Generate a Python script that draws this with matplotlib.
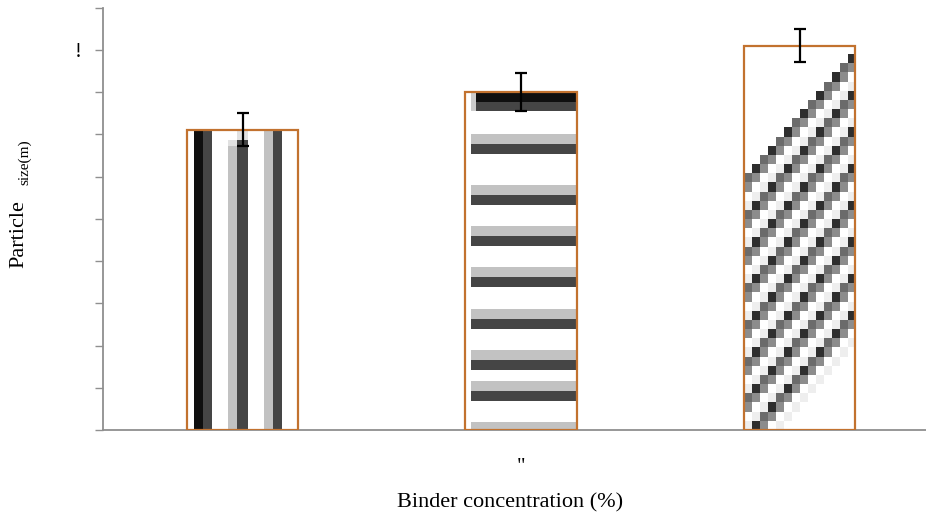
import numpy as np
import matplotlib
matplotlib.use("Agg")
import matplotlib.pyplot as plt

# Data
categories = ["", '"', ""]
particle_size = [7.11, 8.00, 9.10]
size_err = [0.39, 0.45, 0.40]
y_ticks = [0, 1, 2, 3, 4, 5, 6, 7, 8, 9, 10]
y_tick_labels = ["", "", "", "", "", "", "", "", "", "!", ""]

EDGE = "#C2722F"
AXIS_GREY = "#8f8f8f"
BLACK = 0.06
DARK = 0.27
LIGHT = 0.76

plt.rcParams["font.family"] = ["Liberation Serif", "DejaVu Serif"]

fig = plt.figure(figsize=(9.26, 5.20), dpi=100)
ax = fig.add_axes([103 / 926, 1 - 430 / 520, 1 - 103 / 926, (430 - 7.5) / 520])

x = np.arange(len(categories))
bars = ax.bar(x, particle_size, width=0.4, facecolor="none", edgecolor=EDGE,
              linewidth=1.6, zorder=3)
ax.errorbar(x, particle_size, yerr=size_err, fmt="none", ecolor="black",
            elinewidth=1.6, capsize=4, capthick=1.6, zorder=4)


def stripe_profile(n, bands):
    """1-D grey profile of length n; bands are (start, end, level) in fractions."""
    prof = np.ones(n)
    pos = (np.arange(n) + 0.5) / n
    for a, b, lvl in bands:
        prof[(pos >= a) & (pos < b)] = lvl
    return prof


def paint(bar, tex):
    x0, y0 = bar.get_x(), bar.get_y()
    w, h = bar.get_width(), bar.get_height()
    im = ax.imshow(tex, cmap="gray", vmin=0, vmax=1, interpolation="nearest",
                   extent=(x0, x0 + w, y0, y0 + h), aspect="auto", zorder=2)
    im.set_clip_path(bar)


# vertical stripes
W = 111
H1 = 300
v_bands = [(7 / W, 16 / W, BLACK), (16 / W, 25 / W, DARK),
           (41 / W, 50 / W, LIGHT), (50 / W, 60 / W, DARK),
           (76 / W, 85 / W, LIGHT), (85 / W, 94 / W, DARK)]
tex1 = np.repeat(stripe_profile(W, v_bands)[None, :], H1, axis=0)
tex1[:2, :] = 1.0
tex1[:11, 41:50] = 1.0
tex1[11:17, 41:50] = 0.88
tex1[:17, 50:60] = np.where(np.arange(17)[:, None] < 11, 0.88, DARK)
tex1[:2, 50:60] = 1.0
paint(bars[0], tex1)

# horizontal stripes
H = 337
h_rows = [(0, 10, BLACK), (10, 19, DARK)]
for s in [42, 93, 134, 174, 216, 257, 288, 329]:
    h_rows += [(s, s + 10, LIGHT), (s + 10, s + 20, DARK)]
col = stripe_profile(H, [(a / H, b / H, l) for a, b, l in h_rows])
tex2 = np.repeat(col[:, None], W, axis=1)
tex2[:, :6] = 1.0
tex2[:19, 6:11] = np.where(col[:19, None] < 0.5, 0.8, 1.0)
paint(bars[1], tex2)

# diagonal stripes, coarse cells
rows, cols = 42, 14
r, c = np.mgrid[0:rows, 0:cols]
t = r + c
d = np.mod(t - 14, 4)
inside = (t >= 14) & (t <= 45)
lvl = np.array([0.18, 0.55, 1.0, 0.93])
tex3 = lvl[d]
tex3 = np.where((d == 0) & (r % 2 == 0), 0.42, tex3)
tex3[~inside] = 1.0
paint(bars[2], tex3)

ax.set_xlim(-0.501, 2.454)
ax.set_ylim(0, 10)
ax.set_yticks(y_ticks)
ax.set_yticklabels(y_tick_labels, fontsize=15)
ax.set_xticks(x)
ax.set_xticklabels(categories, fontsize=15)
ax.tick_params(axis="y", direction="out", length=6, width=1.0, color=AXIS_GREY, pad=9)
ax.tick_params(axis="x", length=0, pad=20)

for side in ["top", "right"]:
    ax.spines[side].set_visible(False)
for side in ["left", "bottom"]:
    ax.spines[side].set_color(AXIS_GREY)
    ax.spines[side].set_linewidth(1.3)

fig.text(510 / 926, 1 - 503 / 520, "Binder concentration (%)", fontsize=16,
         ha="center", va="center")
fig.text(19 / 926, 1 - 234 / 520, "Particle", fontsize=16, rotation=90,
         ha="center", va="center")
fig.text(25 / 926, 1 - 162 / 520, "size(m)", fontsize=11, rotation=90,
         ha="center", va="center")

fig.savefig("out.png", dpi=100)
